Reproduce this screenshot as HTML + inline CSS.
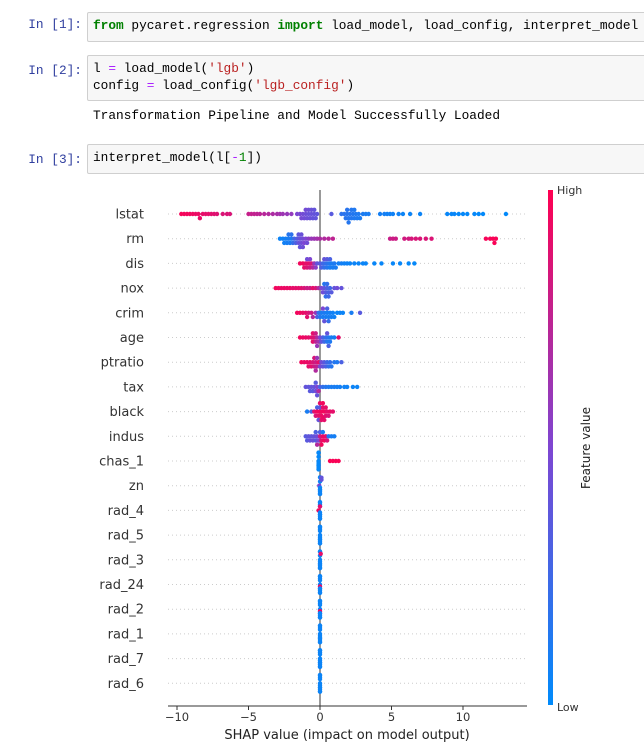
<!DOCTYPE html>
<html><head><meta charset="utf-8"><style>
body{margin:0;width:644px;height:753px;background:#fff;position:relative;overflow:hidden;font-family:"Liberation Mono",monospace;}
.prompt{position:absolute;left:0;width:82px;text-align:right;color:#303f9f;font-size:12.8px;font-family:"Liberation Mono",monospace;}
.cell{position:absolute;left:87px;width:570px;background:#f7f7f7;border:1px solid #cfcfcf;border-radius:2px;box-sizing:border-box;padding:4px 5px;font-size:12.8px;line-height:17px;color:#000;white-space:pre;}
.kw{color:#008000;font-weight:bold}.st{color:#ba2121}.op{color:#aa22ff}.nm{color:#008000}
.out{position:absolute;left:93px;top:108px;font-size:12.8px;white-space:pre;color:#000}
svg{position:absolute;left:0;top:0}
</style></head><body>
<div class="prompt" style="top:17px">In [1]:</div>
<div class="cell" style="top:12px;height:30px"><span class="kw">from</span> pycaret.regression <span class="kw">import</span> load_model, load_config, interpret_model</div>
<div class="prompt" style="top:63px">In [2]:</div>
<div class="cell" style="top:55px;height:46px">l <span class="op">=</span> load_model(<span class="st">'lgb'</span>)
config <span class="op">=</span> load_config(<span class="st">'lgb_config'</span>)</div>
<div class="out">Transformation Pipeline and Model Successfully Loaded</div>
<div class="prompt" style="top:152px">In [3]:</div>
<div class="cell" style="top:144px;height:30px">interpret_model(l[<span class="op">-</span><span class="nm">1</span>])</div>
<svg id="chart" width="644" height="753"></svg>
<script>
const features=["lstat","rm","dis","nox","crim","age","ptratio","tax","black","indus","chas_1","zn","rad_4","rad_5","rad_3","rad_24","rad_2","rad_1","rad_7","rad_6"];
const xTicks=[-10,-5,0,5,10];
const shapValues=[
[-9.7,-9.5,-9.3,-9.1,-8.9,-8.7,-8.5,-8.4,-8.2,-8.0,-7.8,-7.6,-7.4,-7.2,-6.8,-6.5,-6.3,-5.0,-4.8,-4.6,-4.4,-4.2,-3.9,-3.6,-3.3,-3.0,-2.8,-2.6,-2.3,-2.0,-1.6,-1.4,-1.3,-1.2,-1.1,-1.0,-0.9,-0.8,-0.7,-0.6,-0.5,-0.4,-0.3,-0.2,-0.8,-1.0,-0.6,-0.4,0.8,1.5,1.7,1.8,1.9,2.0,2.1,2.2,2.3,2.4,2.5,2.6,2.7,2.8,3.0,3.2,3.4,2.0,2.2,1.9,2.4,4.2,4.5,4.7,4.9,5.1,5.5,5.8,6.3,7.0,8.9,9.2,9.4,9.7,10.0,10.3,10.8,11.1,11.4,13.0],
[-2.8,-2.6,-2.5,-2.4,-2.3,-2.2,-2.1,-2.0,-2.2,-2.0,-1.9,-1.8,-1.7,-1.6,-1.5,-1.4,-1.5,-1.4,-1.3,-1.2,-1.1,-1.0,-0.9,-1.3,-1.2,-0.8,-0.6,-0.4,-0.2,0.0,0.3,0.6,0.9,4.9,5.1,5.3,5.9,6.2,6.4,6.7,7.0,7.4,7.8,11.6,11.9,12.1,12.2,12.3],
[-1.4,-1.2,-1.1,-1.0,-0.9,-0.8,-0.7,-0.6,-0.5,-0.4,-0.3,-0.9,-0.7,-0.2,0.0,0.1,0.2,0.3,0.4,0.5,0.6,0.7,0.8,0.9,1.0,1.1,0.3,0.5,0.7,1.3,1.5,1.7,1.9,2.1,2.4,2.7,3.0,3.2,3.8,4.3,5.1,5.6,6.6,6.2],
[-3.1,-2.9,-2.7,-2.5,-2.3,-2.1,-1.9,-1.7,-1.5,-1.3,-1.1,-0.9,-0.7,-0.5,-0.3,-0.1,0.1,0.2,0.3,0.4,0.5,0.6,0.7,0.5,0.4,0.3,0.6,0.8,1.0,1.2,1.5],
[-1.6,-1.4,-1.2,-1.0,-0.9,-0.8,-0.6,-0.5,-0.3,-0.2,-0.1,0.0,0.1,0.2,0.3,0.4,0.5,0.6,0.7,0.8,0.9,1.0,1.2,1.4,1.6,0.3,0.5,0.2,0.6,2.2,2.8],
[-1.4,-1.2,-1.0,-0.8,-0.6,-0.5,-0.4,-0.3,-0.2,-0.1,-0.5,-0.3,-0.2,0.0,0.1,0.2,0.3,0.4,0.5,0.6,0.7,0.8,0.5,0.6,1.0,1.3],
[-1.3,-1.1,-0.9,-0.8,-0.7,-0.6,-0.5,-0.4,-0.3,-0.2,-0.1,-0.4,-0.3,-0.2,0.0,0.1,0.2,0.3,0.4,0.5,0.6,0.7,0.8,1.0,1.2,1.5],
[-1.0,-0.8,-0.7,-0.6,-0.5,-0.4,-0.3,-0.2,-0.1,-0.3,-0.2,0.0,0.2,0.4,0.6,0.8,1.0,1.2,1.4,1.7,1.9,2.3,2.6],
[-0.9,-0.6,-0.4,-0.3,-0.2,-0.1,0.0,0.1,0.2,0.3,0.4,0.5,0.6,0.7,0.9,-0.1,0.0,0.1,0.2,0.3,0.0,0.1,-0.2,0.2,0.4],
[-1.0,-0.9,-0.8,-0.7,-0.6,-0.5,-0.4,-0.3,-0.2,-0.1,-0.3,-0.2,0.0,0.1,0.2,0.3,0.4,0.5,0.0,0.2,0.1,0.6,0.8,1.0],
[-0.1,-0.1,-0.1,-0.1,-0.1,-0.1,-0.1,-0.1,-0.1,-0.1,0.7,0.9,1.1,1.3],
[0.0,0.0,0.0,0.0,0.0,0.0,0.0,0.0,0.1,-0.05,0.1],
[0,0,0,0,0,0,0,0,0,0,-0.1,0.0],
[0,0,0,0,0,0,0,0,0,0,0],
[0,0,0,0,0,0,0,0,0,0,0.05],
[0,0,0,0,0,0,0,0,0,0,0],
[0,0,0,0,0,0,0,0,0,0,0],
[0,0,0,0,0,0,0,0,0,0,0],
[0,0,0,0,0,0,0,0,0,0,0],
[0,0,0,0,0,0,0,0,0,0,0]
];
const featValues=[
[0.97,0.96,0.95,0.95,0.94,0.93,0.93,0.92,0.91,0.9,0.9,0.89,0.88,0.87,0.86,0.86,0.85,0.78,0.77,0.76,0.75,0.74,0.72,0.7,0.68,0.66,0.64,0.62,0.6,0.58,0.5,0.48,0.47,0.46,0.45,0.44,0.43,0.42,0.42,0.41,0.4,0.4,0.39,0.38,0.44,0.46,0.42,0.4,0.35,0.18,0.17,0.16,0.16,0.15,0.15,0.14,0.14,0.13,0.13,0.12,0.12,0.11,0.11,0.1,0.1,0.15,0.14,0.16,0.13,0.08,0.08,0.07,0.07,0.06,0.06,0.05,0.05,0.05,0.03,0.03,0.03,0.02,0.02,0.02,0.02,0.01,0.01,0.01],
[0.05,0.06,0.07,0.08,0.09,0.1,0.1,0.12,0.15,0.18,0.2,0.25,0.3,0.35,0.4,0.42,0.38,0.4,0.45,0.45,0.5,0.5,0.45,0.42,0.44,0.55,0.6,0.62,0.65,0.68,0.7,0.72,0.75,0.78,0.8,0.8,0.82,0.82,0.84,0.85,0.85,0.86,0.86,0.97,0.97,0.98,0.98,0.98],
[0.95,0.95,0.9,0.9,0.85,0.9,0.8,0.85,0.7,0.6,0.55,0.45,0.5,0.4,0.35,0.3,0.25,0.2,0.2,0.15,0.15,0.1,0.1,0.1,0.12,0.1,0.4,0.35,0.3,0.08,0.08,0.06,0.06,0.05,0.05,0.04,0.04,0.04,0.03,0.03,0.03,0.03,0.02,0.02],
[0.95,0.94,0.93,0.93,0.92,0.92,0.9,0.9,0.9,0.88,0.85,0.8,0.8,0.9,0.85,0.7,0.5,0.45,0.4,0.35,0.3,0.3,0.25,0.2,0.2,0.15,0.25,0.35,0.4,0.45,0.4],
[0.95,0.95,0.92,0.9,0.88,0.85,0.8,0.7,0.6,0.3,0.2,0.15,0.1,0.1,0.12,0.1,0.08,0.1,0.08,0.08,0.06,0.06,0.05,0.05,0.05,0.4,0.3,0.5,0.2,0.1,0.35],
[0.95,0.93,0.92,0.9,0.88,0.9,0.85,0.75,0.7,0.65,0.9,0.8,0.6,0.5,0.4,0.3,0.25,0.2,0.15,0.15,0.12,0.1,0.4,0.3,0.08,0.9],
[0.95,0.93,0.92,0.9,0.9,0.88,0.85,0.8,0.8,0.75,0.9,0.85,0.7,0.6,0.5,0.45,0.4,0.35,0.3,0.25,0.2,0.2,0.15,0.15,0.12,0.3],
[0.4,0.38,0.36,0.4,0.35,0.4,0.45,0.5,0.7,0.35,0.4,0.3,0.2,0.15,0.12,0.1,0.1,0.08,0.08,0.06,0.06,0.05,0.05],
[0.1,0.3,0.9,0.85,0.95,0.9,0.95,0.92,0.9,0.95,0.88,0.9,0.85,0.92,0.9,0.4,0.35,0.9,0.95,0.9,0.92,0.95,0.3,0.93,0.9],
[0.35,0.35,0.38,0.4,0.38,0.42,0.4,0.35,0.45,0.5,0.3,0.7,0.8,0.9,0.92,0.95,0.9,0.85,0.3,0.1,0.95,0.12,0.1,0.08],
[0.02,0.02,0.02,0.02,0.02,0.02,0.02,0.02,0.02,0.02,0.98,0.98,0.98,0.98],
[0.05,0.05,0.05,0.05,0.05,0.05,0.05,0.05,0.4,0.5,0.4],
[0.05,0.05,0.05,0.05,0.05,0.05,0.05,0.05,0.05,0.05,0.95,0.9],
[0.05,0.05,0.05,0.05,0.05,0.05,0.05,0.05,0.05,0.05,0.05],
[0.05,0.05,0.05,0.05,0.05,0.05,0.05,0.05,0.05,0.05,0.9],
[0.05,0.05,0.05,0.05,0.05,0.95,0.05,0.05,0.05,0.05,0.05],
[0.05,0.05,0.05,0.05,0.05,0.95,0.05,0.05,0.05,0.05,0.05],
[0.05,0.05,0.05,0.05,0.05,0.05,0.05,0.05,0.05,0.05,0.05],
[0.05,0.05,0.05,0.05,0.05,0.05,0.05,0.05,0.05,0.05,0.05],
[0.05,0.05,0.05,0.05,0.05,0.05,0.05,0.05,0.05,0.05,0.05]
];
const NS="http://www.w3.org/2000/svg";
const svg=document.getElementById('chart');
const X0=320,PX=14.3,Y0=214,DY=24.7,AX_L=168,AX_R=527,AX_Y=706;
function xs(v){return X0+v*PX;}
function ys(i){return Y0+i*DY;}
function mk(tag,attrs){const e=document.createElementNS(NS,tag);for(const k in attrs)e.setAttribute(k,attrs[k]);svg.appendChild(e);return e;}
function col(t){const a=[0,139,251],m=[126,70,210],b=[255,0,81];let r,g,bb;
 if(t<0.5){const u=t/0.5;r=a[0]+(m[0]-a[0])*u;g=a[1]+(m[1]-a[1])*u;bb=a[2]+(m[2]-a[2])*u;}
 else{const u=(t-0.5)/0.5;r=m[0]+(b[0]-m[0])*u;g=m[1]+(b[1]-m[1])*u;bb=m[2]+(b[2]-m[2])*u;}
 return `rgb(${r|0},${g|0},${bb|0})`;}
features.forEach((f,i)=>{
 const l=mk('line',{x1:AX_L,x2:AX_R,y1:ys(i),y2:ys(i),stroke:'#ccc','stroke-width':1,'stroke-dasharray':'1,3'});
 
 
 const t=mk('text',{x:144,y:ys(i)+4.5,'text-anchor':'end','font-size':13,fill:'#333','font-family':'DejaVu Sans, Liberation Sans, sans-serif'});
 t.textContent=f;
 
 
});
const zl=mk('line',{x1:xs(0),x2:xs(0),y1:190,y2:AX_Y,stroke:'#999','stroke-width':2});


shapValues.forEach((arr,i)=>{
 const pts=arr.map((v,j)=>({x:xs(v),c:featValues[i][j]})).sort((a,b)=>a.x-b.x);
 const placed=[];
 pts.forEach(p=>{
  let off=0;
  for(let k=0;k<40;k++){const o=(k%2?1:-1)*Math.ceil(k/2)*2.1;
   if(placed.every(q=>Math.hypot(q.x-p.x,q.y-o)>2.6)){off=o;break;}}
  if(Math.abs(off)>9)off=((placed.length%9)-4)*2.0;
  placed.push({x:p.x,y:off});
  const d=mk('circle',{cx:p.x,cy:ys(i)+off,r:2.2,fill:col(p.c)});
  
  
 });
});
const ax=mk('line',{x1:AX_L,x2:AX_R,y1:AX_Y,y2:AX_Y,stroke:'#333','stroke-width':1});


xTicks.forEach(v=>{
 const tk=mk('line',{x1:xs(v),x2:xs(v),y1:AX_Y,y2:AX_Y+4,stroke:'#333'});
 
 
 const t=mk('text',{x:xs(v),y:AX_Y+15,'text-anchor':'middle','font-size':11.5,fill:'#333','font-family':'DejaVu Sans, Liberation Sans, sans-serif'});
 t.textContent=v<0?'\u2212'+(-v):String(v);
 
 
});
const xt=mk('text',{x:347,y:739,'text-anchor':'middle','font-size':13,fill:'#222','font-family':'DejaVu Sans, Liberation Sans, sans-serif'});
xt.textContent='SHAP value (impact on model output)';


const defs=mk('defs',{});
defs.innerHTML='<linearGradient id="cb" x1="0" y1="0" x2="0" y2="1"><stop offset="0" stop-color="rgb(255,0,81)"/><stop offset="0.5" stop-color="rgb(126,70,210)"/><stop offset="1" stop-color="rgb(0,139,251)"/></linearGradient>';
const cb=mk('rect',{x:548,y:190,width:5,height:515,fill:'url(#cb)'});


const hi=mk('text',{x:557,y:194,'font-size':11,fill:'#333','font-family':'DejaVu Sans, Liberation Sans, sans-serif'});hi.textContent='High';


const lo=mk('text',{x:557,y:711,'font-size':11,fill:'#333','font-family':'DejaVu Sans, Liberation Sans, sans-serif'});lo.textContent='Low';


const fv=mk('text',{x:0,y:0,'font-size':12,fill:'#222','text-anchor':'middle','font-family':'DejaVu Sans, Liberation Sans, sans-serif',transform:'translate(590,448) rotate(-90)'});fv.textContent='Feature value';


</script>
</body></html>
